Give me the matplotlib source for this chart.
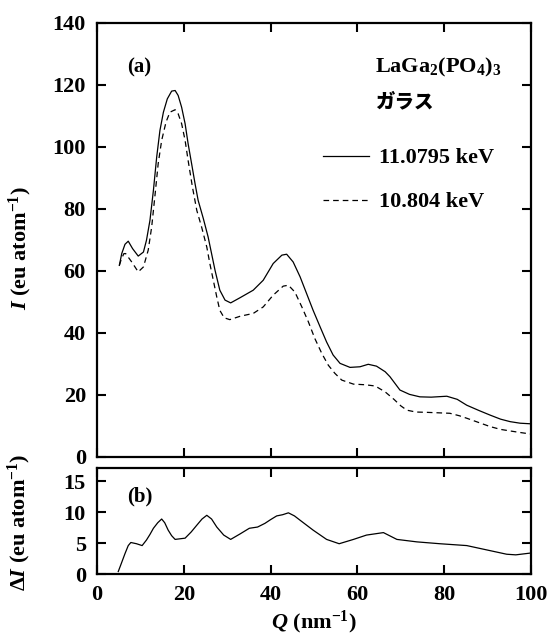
import numpy as np
import matplotlib
matplotlib.use("Agg")
import matplotlib.pyplot as plt

plt.rcParams['font.family'] = ['Liberation Serif', 'DejaVu Serif']
plt.rcParams['font.weight'] = 'bold'
plt.rcParams['mathtext.fontset'] = 'custom'
plt.rcParams['mathtext.rm'] = 'Liberation Serif:bold'
plt.rcParams['mathtext.it'] = 'Liberation Serif:italic:bold'
plt.rcParams['mathtext.bf'] = 'Liberation Serif:bold'

# (a) total intensity, 11.0795 keV
q_hi = [5.15, 5.7, 6.45, 7.2, 8.2, 9.5, 10.7, 11.4, 12.2, 13.0, 13.75, 14.5, 15.3, 16.2,
        17.2, 18.0, 18.7, 19.5, 20.3, 21.0, 21.8, 22.6, 23.3, 24.5, 25.6, 26.4, 27.2,
        28.3, 29.5, 30.8, 33.0, 36.0, 38.3, 40.6, 42.6, 43.7, 45.2, 46.8, 48.3, 49.8,
        51.4, 52.9, 54.4, 56.0, 58.3, 60.6, 62.5, 64.4, 66.4, 67.5, 69.8, 72.0, 74.4,
        77.0, 80.6, 83.0, 85.2, 88.0, 90.6, 93.0, 95.2, 97.5, 100.0]
i_hi = [61.8, 65.6, 68.6, 69.6, 67.2, 64.8, 66.1, 69.9, 76.3, 86.0, 96.7, 105.3, 111.2, 115.5,
        118.0, 118.2, 116.6, 112.8, 107.5, 101.0, 94.6, 88.1, 82.8, 76.9, 71.0, 65.6, 60.2,
        53.8, 50.6, 49.7, 51.4, 53.8, 57.0, 62.4, 65.1, 65.4, 62.9, 58.1, 52.7, 47.3,
        42.0, 37.1, 32.9, 30.2, 28.9, 29.1, 29.9, 29.3, 27.5, 25.9, 21.6, 20.2, 19.4,
        19.3, 19.6, 18.6, 16.7, 15.0, 13.5, 12.2, 11.4, 10.9, 10.7]

# (a) total intensity, 10.804 keV
q_lo = [5.15, 5.6, 6.2, 6.6, 8.0, 9.5, 10.7, 11.8, 12.6, 13.4, 14.1, 14.9, 15.9, 16.8,
        18.0, 18.7, 19.5, 20.3, 21.0, 22.0, 23.0, 24.1, 25.3, 26.0, 26.8, 27.6, 28.3,
        29.3, 30.6, 33.0, 36.0, 38.3, 40.6, 42.9, 44.1, 45.6, 47.2, 48.7, 50.2, 51.8,
        53.3, 54.8, 56.4, 59.1, 61.8, 64.1, 66.4, 68.5, 70.0, 71.4, 73.5, 76.0, 81.3,
        83.5, 85.2, 88.0, 90.6, 93.0, 95.2, 97.5, 100.0]
i_lo = [61.8, 63.8, 65.6, 65.6, 62.9, 59.7, 61.3, 66.7, 74.2, 84.9, 94.6, 102.1, 108.0, 111.2,
        112.0, 110.7, 107.5, 102.1, 95.6, 87.0, 79.5, 74.2, 67.7, 62.4, 57.0, 51.6, 47.3,
        44.9, 44.3, 45.4, 46.3, 48.4, 52.2, 55.1, 55.4, 53.2, 48.4, 43.6, 38.2, 33.4,
        29.6, 27.0, 24.8, 23.5, 23.3, 22.9, 21.0, 18.5, 16.5, 15.1, 14.5, 14.4, 14.1,
        13.3, 12.5, 11.1, 9.8, 8.9, 8.4, 7.9, 7.4]

# (b) difference
q_d = [4.9, 5.6, 6.45, 7.2, 7.8, 9.1, 10.4, 11.4, 12.2, 13.0, 14.0, 14.9, 15.6, 16.4,
       17.2, 18.0, 20.3, 21.7, 23.0, 24.2, 25.3, 26.4, 27.6, 29.2, 30.8, 33.0, 35.1,
       37.0, 38.7, 40.0, 41.4, 42.8, 44.1, 45.5, 46.8, 49.8, 52.9, 55.8, 59.1, 62.1,
       66.0, 69.1, 73.7, 79.0, 85.2, 89.8, 94.4, 96.5, 100.0]
d_i = [0.4, 1.7, 3.3, 4.6, 5.1, 4.9, 4.6, 5.5, 6.4, 7.4, 8.3, 8.9, 8.3, 7.1,
       6.2, 5.6, 5.8, 6.8, 7.9, 8.9, 9.5, 8.9, 7.6, 6.3, 5.6, 6.5, 7.4,
       7.6, 8.2, 8.8, 9.4, 9.6, 9.9, 9.4, 8.7, 7.1, 5.6, 4.9, 5.6, 6.3,
       6.7, 5.6, 5.2, 4.9, 4.6, 3.9, 3.2, 3.1, 3.4]

fig = plt.figure(figsize=(5.53, 6.38), dpi=100)
ax1 = fig.add_axes([0.1754, 0.2837, 0.7848, 0.6804])
ax2 = fig.add_axes([0.1754, 0.1003, 0.7848, 0.1666])

ax1.plot(q_hi, i_hi, color='black', lw=0.9, label='11.0795 keV')
ax1.plot(q_lo, i_lo, color='black', lw=0.9, linestyle=(0, (4.5, 3.2)), label='10.804 keV')
ax2.plot(q_d, d_i, color='black', lw=0.9)

for ax in (ax1, ax2):
    ax.set_xlim(0, 100)
    ax.set_xticks([0, 20, 40, 60, 80, 100])
    ax.tick_params(direction='in', top=True, right=True, length=6.5, width=1.5,
                   labelsize=16, pad=8)
    for s in ax.spines.values():
        s.set_linewidth(1.6)

ax1.set_ylim(0, 140)
ax1.set_yticks(range(0, 141, 20))
ax1.tick_params(labelbottom=False)
ax2.set_ylim(0, 17.2)
ax2.set_yticks([0, 5, 10, 15])

ax1.set_ylabel('$I$ (eu atom$^{-1}$)', fontsize=16, fontweight='bold')
ax1.yaxis.set_label_coords(-0.145, 0.48)
ax2.set_ylabel('$\\Delta I$ (eu atom$^{-1}$)', fontsize=16, fontweight='bold')
ax2.yaxis.set_label_coords(-0.147, 0.49)
ax2.set_xlabel('$Q$ (nm$^{-1}$)', fontsize=16, fontweight='bold')
ax2.xaxis.set_label_coords(0.5, -0.33)

ax1.text(7.0, 125.5, '(a)', fontsize=15, fontweight='bold', va='center')
ax2.text(7.0, 12.5, '(b)', fontsize=15, fontweight='bold', va='center')
ax1.text(64.0, 125.5, 'LaGa$_2$(PO$_4$)$_3$', fontsize=16, fontweight='bold', va='center')
ax1.text(64.0, 114.6, 'ガラス', fontsize=14, fontweight='black', va='center',
         family=['Noto Sans CJK JP', 'DejaVu Sans'])

ax1.legend(loc='upper left', bbox_to_anchor=(0.52, 0.712), frameon=False,
           handlelength=2.1, handletextpad=0.45, labelspacing=1.05,
           borderpad=0, borderaxespad=0, prop={'weight': 'bold', 'size': 16})

fig.savefig('out.png', dpi=100)
